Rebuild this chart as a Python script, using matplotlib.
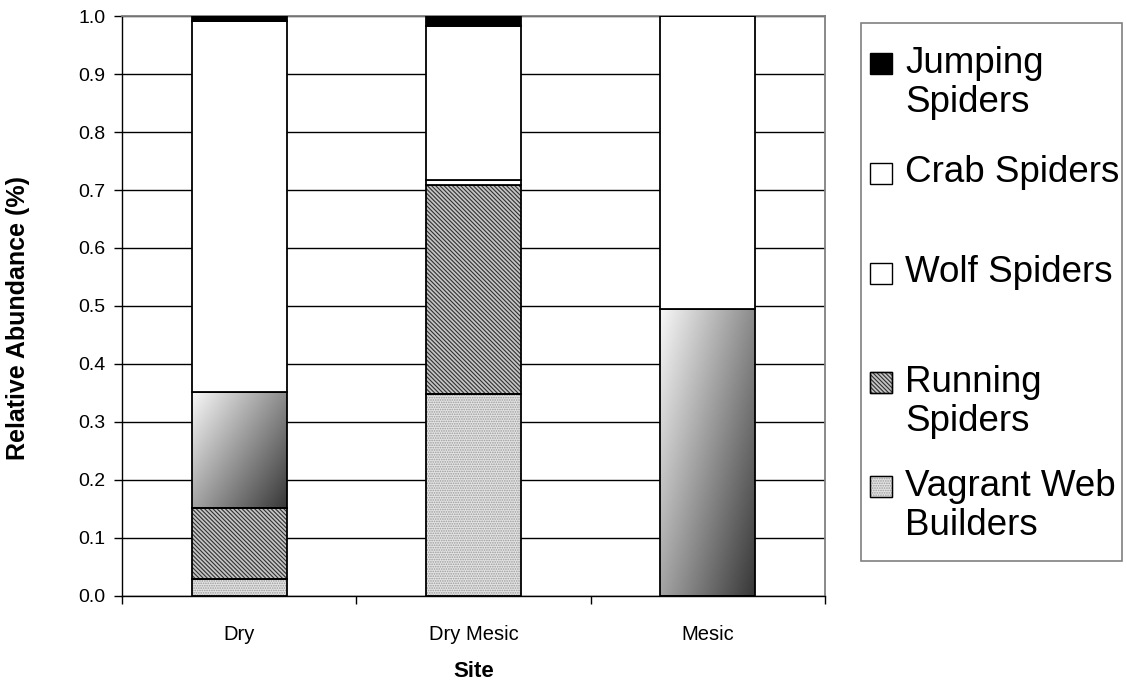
import numpy as np
from matplotlib import pyplot as plt
from matplotlib.patches import Rectangle

plt.rcParams['font.family'] = ['Liberation Sans', 'DejaVu Sans']
plt.rcParams['hatch.linewidth'] = 0.8

# data
categories = ["Dry", "Dry Mesic", "Mesic"]
vagrant = [0.029, 0.348, 0.0]
running = [0.123, 0.361, 0.0]
unlisted = [0.200, 0.0, 0.495]   # gradient series, no legend entry
wolf = [0.639, 0.008, 0.505]
crab = [0.0, 0.266, 0.0]
jumping = [0.009, 0.017, 0.0]

legend_labels = ["Jumping\nSpiders", "Crab Spiders", "Wolf Spiders", "Running\nSpiders", "Vagrant Web\nBuilders"]

RUN_HATCH = '\\\\\\\\\\\\\\\\'
VAG_HATCH = '.......'

W, H = 1127, 685
fig = plt.figure(figsize=(W / 100, H / 100), dpi=100)
ax = fig.add_axes([0.1083, 0.130, 0.6237, 0.8466])

xs = np.arange(len(categories))
w = 0.405
bottom = np.zeros(len(categories))


def draw_layer(vals, face, hatch=None, hcolor=None):
    global bottom
    vals = np.array(vals)
    if hatch:
        ax.bar(xs, vals, w, bottom=bottom, color=face, hatch=hatch,
               edgecolor=hcolor, linewidth=0, zorder=2)
    bars = ax.bar(xs, vals, w, bottom=bottom, facecolor=face if not hatch else 'none',
                  edgecolor='black', linewidth=1.3, zorder=3)
    bottom = bottom + vals
    return bars


draw_layer(vagrant, '#e4e4e4', VAG_HATCH, '#9a9a9a')
draw_layer(running, '#c4c4c4', RUN_HATCH, '#303030')

# gradient series
u = np.linspace(0, 1, 60)[None, :]
v = np.linspace(0, 1, 120)[:, None]
grad = 0.97 - 0.42 * u - 0.33 * v
vals = np.array(unlisted)
for i in range(len(categories)):
    if vals[i] <= 0:
        continue
    rect = ax.bar(xs[i], vals[i], w, bottom=bottom[i], facecolor='none',
                  edgecolor='black', linewidth=1.3, zorder=3)[0]
    im = ax.imshow(grad, cmap='gray', vmin=0, vmax=1, aspect='auto',
                   extent=[xs[i] - w / 2, xs[i] + w / 2, bottom[i], bottom[i] + vals[i]],
                   zorder=2, interpolation='bilinear')
    im.set_clip_path(rect)
bottom = bottom + vals

draw_layer(wolf, 'white')
draw_layer(crab, 'white')
draw_layer(jumping, 'black')

ax.set_xlim(-0.5, 2.5)
ax.set_ylim(0, 1)
ax.set_yticks(np.arange(0, 1.01, 0.1))
ax.set_yticklabels(["%.1f" % t for t in np.arange(0, 1.01, 0.1)], fontsize=14)
ax.yaxis.grid(True, color='black', linewidth=1)
ax.set_axisbelow(True)
ax.set_xticks(xs)
ax.set_xticklabels(categories, fontsize=14.5)
ax.set_xticks([-0.5, 0.5, 1.5, 2.5], minor=True)
ax.tick_params(axis='x', which='major', length=0, pad=21)
ax.tick_params(axis='x', which='minor', length=6, width=1, direction='out')
ax.tick_params(axis='y', length=6, width=1, direction='out', pad=6)
for s in ['top', 'right']:
    ax.spines[s].set_color('#808080')
    ax.spines[s].set_linewidth(1.3)
for s in ['left', 'bottom']:
    ax.spines[s].set_color('black')
    ax.spines[s].set_linewidth(1)
ax.set_xlabel("Site", fontsize=16, fontweight='bold', labelpad=12)
ax.set_ylabel("Relative Abundance (%)", fontsize=18, fontweight='bold')
ax.yaxis.set_label_coords(-0.131, 0.48)

# legend: box, swatches and labels placed by hand (pixel positions -> figure coords)
fig.patches.append(Rectangle((861 / W, 1 - 561 / H), 261 / W, 538 / H, transform=fig.transFigure,
                             facecolor='white', edgecolor='#808080', linewidth=1.2, zorder=0))
swatches = [
    dict(facecolor='black', edgecolor='black'),
    dict(facecolor='white', edgecolor='black'),
    dict(facecolor='white', edgecolor='black'),
    dict(facecolor='#c4c4c4', edgecolor='#303030', hatch=RUN_HATCH),
    dict(facecolor='#e4e4e4', edgecolor='#9a9a9a', hatch=VAG_HATCH),
]
first_line_y = [63, 173, 273, 382, 486]
line_gap = 40
for lab, sw, y0 in zip(legend_labels, swatches, first_line_y):
    nlines = lab.count("\n") + 1
    yc = y0 + (nlines - 1) * line_gap / 2
    fig.text(905 / W, 1 - yc / H, lab, fontsize=26.5, ha='left', va='center', linespacing=1.12)
    fig.patches.append(Rectangle((870 / W, 1 - (y0 + 11) / H), 22 / W, 21 / H,
                                 transform=fig.transFigure, linewidth=1, zorder=1, **sw))
    if 'hatch' in sw:
        fig.patches.append(Rectangle((870 / W, 1 - (y0 + 11) / H), 22 / W, 21 / H,
                                     transform=fig.transFigure, facecolor='none',
                                     edgecolor='black', linewidth=1, zorder=2))

plt.savefig("out.png", dpi=100)
